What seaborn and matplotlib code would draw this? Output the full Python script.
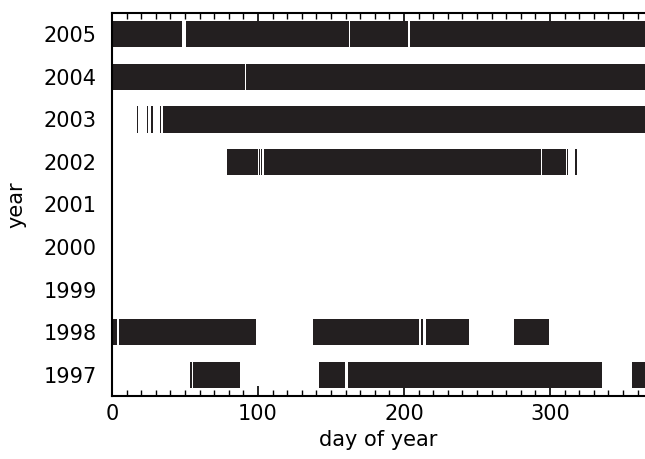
import matplotlib
matplotlib.use("Agg")
import matplotlib.pyplot as plt
import seaborn as sns
import pandas as pd

years = [1997, 1998, 1999, 2000, 2001, 2002, 2003, 2004, 2005]

# coverage segments (start day, end day) per year
seg_2005 = [(0, 48), (51, 162), (163, 203), (204, 365)]
seg_2004 = [(0, 91), (91.5, 365)]
seg_2003 = [(16.8, 17.6), (23.7, 24.4), (26.6, 27.8), (32.8, 33.6), (34.6, 365)]
seg_2002 = [(78.7, 99.8), (100.5, 101.4), (102, 102.8), (104.2, 293.8),
            (294.4, 310.8), (311.5, 312.4), (317.2, 318.3)]
seg_2001 = []
seg_2000 = []
seg_1999 = []
seg_1998 = [(0, 3.2), (4.6, 98.8), (137.5, 210.2), (211.4, 213), (214.8, 244.4),
            (275.5, 299.4)]
seg_1997 = [(53.7, 54.5), (55.7, 87.6), (141.5, 159.7), (161.5, 335.4),
            (356.3, 365)]

segments = {2005: seg_2005, 2004: seg_2004, 2003: seg_2003, 2002: seg_2002,
            2001: seg_2001, 2000: seg_2000, 1999: seg_1999, 1998: seg_1998,
            1997: seg_1997}

rows = []
for y, segs in segments.items():
    for s, e in segs:
        rows.append({"year": y, "start": s, "width": e - s})
df = pd.DataFrame(rows)

sns.set_theme(style="ticks")
plt.rcParams["font.family"] = ["DejaVu Sans"]
plt.rcParams["text.color"] = "black"
plt.rcParams["axes.labelcolor"] = "black"
plt.rcParams["xtick.color"] = "black"
plt.rcParams["ytick.color"] = "black"

fig = plt.figure(figsize=(6.45, 4.59), dpi=100)
ax = fig.add_axes([0.1736, 0.1373, 0.8264, 0.8344])

ax.barh(df["year"], df["width"], left=df["start"], height=0.62,
        color="#231f20", edgecolor="none", zorder=2)

ax.set_xlim(0, 365)
ax.set_ylim(1996.5, 2005.5)
ax.set_yticks(years)
ax.set_yticklabels([str(y) for y in years])
ax.set_xticks([0, 100, 200, 300])
ax.set_xticks(range(0, 366, 10), minor=True)

ax.tick_params(axis="x", which="major", direction="in", length=7, width=1.2,
               top=True, bottom=True, labelsize=15, pad=6,
               color="black", labelcolor="black")
ax.tick_params(axis="x", which="minor", direction="in", length=4, width=1,
               top=True, bottom=True, color="black")
ax.tick_params(axis="y", which="both", length=0, labelsize=15, pad=11,
               labelcolor="black")

for side in ["left", "bottom", "top"]:
    ax.spines[side].set_visible(True)
    ax.spines[side].set_linewidth(1.5)
    ax.spines[side].set_color("black")
ax.spines["right"].set_visible(False)

ax.set_xlabel("day of year", fontsize=15, labelpad=4, color="black")
ax.set_ylabel("year", fontsize=15, labelpad=12, color="black")

fig.savefig("out.png", dpi=100)
